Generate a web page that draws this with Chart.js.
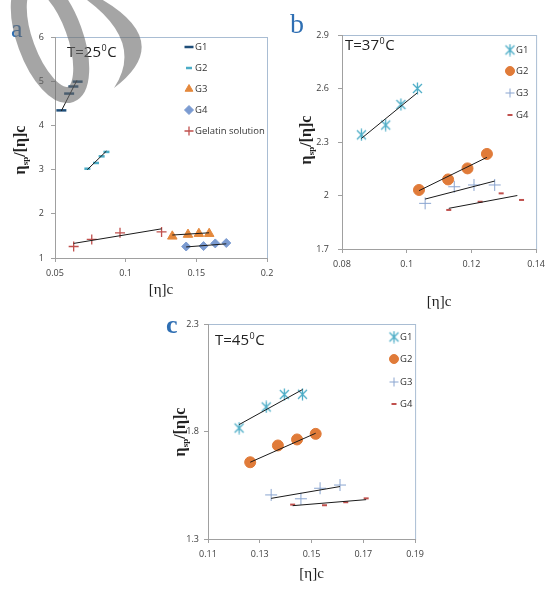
<!DOCTYPE html>
<html lang="en">
<head>
<meta charset="UTF-8">
<title>Huggins plots</title>
<script src="https://cdn.jsdelivr.net/npm/chart.js"></script>
<style>
  body { margin: 0; background: #fff; width: 551px; height: 595px; position: relative; overflow: hidden; }
  canvas { position: absolute; }
  #ca { left: 0; top: 0; }
  #cb { left: 280px; top: 0; }
  #cc { left: 140px; top: 300px; }
  #wm { left: 0; top: 0; pointer-events: none; }
</style>
</head>
<body>
<canvas id="ca" width="280" height="300"></canvas>
<canvas id="cb" width="271" height="320"></canvas>
<canvas id="cc" width="290" height="295"></canvas>
<canvas id="wm" width="200" height="200"></canvas>

<script>
// ---- panel a, T = 25 C ----
const aXTicks = [0.05, 0.1, 0.15, 0.2];
const aYTicks = [1, 2, 3, 4, 5, 6];
const aG1x = [0.0545, 0.060, 0.063, 0.066];
const aG1y = [4.34, 4.72, 4.88, 4.99];
const aG2x = [0.0729, 0.079, 0.083, 0.0864];
const aG2y = [3.02, 3.15, 3.30, 3.40];
const aG3x = [0.133, 0.1441, 0.1518, 0.1591];
const aG3y = [1.49, 1.53, 1.55, 1.55];
const aG4x = [0.1428, 0.1551, 0.1634, 0.1712];
const aG4y = [1.26, 1.27, 1.33, 1.34];
const aGelx = [0.0632, 0.076, 0.096, 0.1254];
const aGely = [1.26, 1.42, 1.57, 1.59];
// trend line ends
const aG1tx = [0.0545, 0.0655], aG1ty = [4.33, 5.02];
const aG2tx = [0.0729, 0.0864], aG2ty = [3.00, 3.42];
const aG3tx = [0.133, 0.159], aG3ty = [1.52, 1.57];
const aG4tx = [0.1428, 0.1712], aG4ty = [1.25, 1.32];
const aGeltx = [0.0632, 0.1254], aGelty = [1.33, 1.66];

// ---- panel b, T = 37 C ----
const bXTicks = [0.08, 0.1, 0.12, 0.14];
const bYTicks = [1.7, 2, 2.3, 2.6, 2.9];
const bG1x = [0.086, 0.0935, 0.0982, 0.1033];
const bG1y = [2.34, 2.395, 2.51, 2.60];
const bG2x = [0.1038, 0.1128, 0.1188, 0.1248];
const bG2y = [2.031, 2.09, 2.152, 2.233];
const bG3x = [0.1057, 0.1147, 0.1208, 0.1272];
const bG3y = [1.956, 2.049, 2.059, 2.059];
const bG4x = [0.113, 0.1227, 0.1292, 0.1355];
const bG4y = [1.919, 1.965, 2.012, 1.975];
const bG1tx = [0.086, 0.1033], bG1ty = [2.32, 2.576];
const bG2tx = [0.1038, 0.1248], bG2ty = [2.027, 2.214];
const bG3tx = [0.1057, 0.1272], bG3ty = [1.98, 2.081];
const bG4tx = [0.113, 0.1342], bG4ty = [1.928, 2.0];

// ---- panel c, T = 45 C ----
const cXTicks = [0.11, 0.13, 0.15, 0.17, 0.19];
const cYTicks = [1.3, 1.8, 2.3];
const cG1x = [0.122, 0.1325, 0.1395, 0.1465];
const cG1y = [1.816, 1.914, 1.972, 1.973];
const cG2x = [0.1263, 0.137, 0.1444, 0.1516];
const cG2y = [1.657, 1.735, 1.763, 1.789];
const cG3x = [0.1344, 0.1459, 0.1533, 0.161];
const cG3y = [1.505, 1.487, 1.536, 1.551];
const cG4x = [0.1427, 0.155, 0.1632, 0.1711];
const cG4y = [1.46, 1.457, 1.471, 1.489];
const cG1tx = [0.122, 0.1465], cG1ty = [1.832, 1.995];
const cG2tx = [0.1263, 0.1516], cG2ty = [1.657, 1.792];
const cG3tx = [0.1344, 0.161], cG3ty = [1.489, 1.544];
const cG4tx = [0.1427, 0.1711], cG4ty = [1.455, 1.483];

const pts = (xs, ys) => xs.map((x, i) => ({ x: x, y: ys[i] }));

// Excel-like asterisk marker (X plus a vertical bar)
function asterisk(color) {
  const c = document.createElement('canvas');
  c.width = 13; c.height = 13;
  const g = c.getContext('2d');
  g.strokeStyle = color;
  g.lineWidth = 1.3;
  g.beginPath();
  g.moveTo(2, 2); g.lineTo(11, 11);
  g.moveTo(11, 2); g.lineTo(2, 11);
  g.moveTo(6.5, 0.5); g.lineTo(6.5, 12.5);
  g.stroke();
  return c;
}

// marker styles
const stDash1 = { pointStyle: 'line', pointRadius: 5, pointBorderWidth: 2.5, borderColor: '#1f4e79', backgroundColor: '#1f4e79' };
const stDash2 = { pointStyle: 'line', pointRadius: 3, pointBorderWidth: 2.5, borderColor: '#4bacc6', backgroundColor: '#4bacc6' };
const stTri = { pointStyle: 'triangle', pointRadius: 5.5, pointBorderWidth: 1, borderColor: '#e4883c', backgroundColor: '#e4883c' };
const stDiam = { pointStyle: 'rectRot', pointRadius: 4.5, pointBorderWidth: 1, borderColor: '#7b9bd1', backgroundColor: '#7b9bd1' };
const stPlusRed = { pointStyle: 'cross', pointRadius: 5, pointBorderWidth: 1.3, borderColor: '#c0504d', backgroundColor: '#c0504d' };
const stStar = { pointStyle: asterisk('#4bacc6'), pointRadius: 6, pointBorderWidth: 1.2, borderColor: '#4bacc6', backgroundColor: '#4bacc6' };
const stCirc = { pointStyle: 'circle', pointRadius: 5.5, pointBorderWidth: 1, borderColor: '#e07b39', backgroundColor: '#e07b39' };
const stPlus = { pointStyle: 'cross', pointRadius: 6, pointBorderWidth: 1, borderColor: '#8aa5d0', backgroundColor: '#8aa5d0' };
const stDashRed = { pointStyle: 'line', pointRadius: 2.5, pointBorderWidth: 2, borderColor: '#c0504d', backgroundColor: '#c0504d' };

function series(label, xs, ys, st) {
  return Object.assign({ label: label, data: pts(xs, ys), showLine: false, order: 1 }, st);
}
function trend(xs, ys) {
  return { label: '', data: pts(xs, ys), showLine: true, borderColor: '#1a1a1a', borderWidth: 1,
           pointRadius: 0, order: 0, noLegend: true };
}

// draws frame, panel letter, temperature, axis titles and the legend
const panelPlugin = {
  id: 'panel',
  beforeDraw(chart, args, o) {
    const a = chart.chartArea, ctx = chart.ctx;
    ctx.save();
    ctx.strokeStyle = '#a9bdd3';
    ctx.lineWidth = 1;
    ctx.strokeRect(a.left + 0.5, a.top + 0.5, a.right - a.left, a.bottom - a.top);
    ctx.restore();
  },
  afterDraw(chart, args, o) {
    const a = chart.chartArea, ctx = chart.ctx;
    ctx.save();
    // panel letter
    ctx.fillStyle = '#2f6fb3';
    ctx.font = o.letterFont;
    ctx.textBaseline = 'alphabetic';
    ctx.fillText(o.letter, o.letterX, o.letterY);
    // temperature
    ctx.fillStyle = '#222';
    ctx.font = '15px "Open Sans"';
    ctx.textBaseline = 'middle';
    let x = o.tempX;
    ctx.fillText('T=' + o.temp, x, o.tempY);
    x += ctx.measureText('T=' + o.temp).width;
    ctx.font = '9px "Open Sans"';
    ctx.fillText('0', x + 0.5, o.tempY - 5);
    x += ctx.measureText('0').width + 1;
    ctx.font = '15px "Open Sans"';
    ctx.fillText('C', x, o.tempY);
    // x title
    ctx.font = '15px "Liberation Serif"';
    ctx.textAlign = 'center';
    ctx.fillStyle = '#222';
    ctx.fillText('[\u03b7]c', (a.left + a.right) / 2, o.xTitleY);
    // y title with subscript
    ctx.translate(o.yTitleX, o.yTitleY);
    ctx.rotate(-Math.PI / 2);
    ctx.textAlign = 'left';
    ctx.textBaseline = 'alphabetic';
    const parts = [['\u03b7', 'bold 16px "Liberation Serif"', 0],
                   ['sp', 'bold 9px "Liberation Serif"', 3],
                   ['/[\u03b7]c', 'bold 16px "Liberation Serif"', 0]];
    let w = 0;
    parts.forEach(p => { ctx.font = p[1]; w += ctx.measureText(p[0]).width; });
    let px = -w / 2;
    parts.forEach(p => { ctx.font = p[1]; ctx.fillText(p[0], px, 5 + p[2]); px += ctx.measureText(p[0]).width; });
    ctx.restore();
    // legend
    ctx.save();
    ctx.font = '9.5px "Open Sans"';
    ctx.textBaseline = 'middle';
    let k = 0;
    chart.data.datasets.forEach(ds => {
      if (ds.noLegend) return;
      const ly = o.legendY[k++];
      ctx.fillStyle = ds.backgroundColor;
      ctx.strokeStyle = ds.borderColor;
      ctx.lineWidth = ds.pointBorderWidth;
      Chart.helpers.drawPoint(ctx, { pointStyle: ds.pointStyle, radius: Math.min(ds.pointRadius, 4.5), rotation: 0,
                                     borderWidth: ds.pointBorderWidth }, o.legendX, ly);
      ctx.fillStyle = '#333';
      ctx.fillText(ds.label, o.legendX + 6, ly);
    });
    ctx.restore();
  }
};

function makeChart(id, datasets, xr, yr, xTicks, yTicks, lay, panel) {
  return new Chart(document.getElementById(id), {
    type: 'scatter',
    data: { datasets: datasets },
    options: {
      responsive: false,
      animation: false,
      events: [],
      layout: { padding: { left: 0, top: lay.top, right: lay.right, bottom: 0 } },
      plugins: { legend: { display: false }, tooltip: { enabled: false }, panel: panel },
      scales: {
        x: {
          type: 'linear', min: xr[0], max: xr[1],
          afterBuildTicks: s => { s.ticks = xTicks.map(v => ({ value: v })); },
          afterFit: s => { s.height = lay.xh; },
          ticks: { font: { family: 'Open Sans', size: 9 }, color: '#404040', padding: 6, maxRotation: 0,
                   callback: v => String(v) },
          grid: { drawOnChartArea: false, tickLength: 4, color: '#a0a0a0' },
          border: { color: '#a0a0a0' }
        },
        y: {
          type: 'linear', min: yr[0], max: yr[1],
          afterBuildTicks: s => { s.ticks = yTicks.map(v => ({ value: v })); },
          afterFit: s => { s.width = lay.yw; },
          ticks: { font: { family: 'Open Sans', size: 9 }, color: '#404040', padding: lay.ypad,
                   autoSkip: false, callback: v => String(v) },
          grid: { drawOnChartArea: false, tickLength: 4, color: '#a0a0a0' },
          border: { color: '#a0a0a0' }
        }
      }
    },
    plugins: [panelPlugin]
  });
}

makeChart('ca', [
  trend(aG1tx, aG1ty), trend(aG2tx, aG2ty), trend(aG3tx, aG3ty), trend(aG4tx, aG4ty), trend(aGeltx, aGelty),
  series('G1', aG1x, aG1y, stDash1),
  series('G2', aG2x, aG2y, stDash2),
  series('G3', aG3x, aG3y, stTri),
  series('G4', aG4x, aG4y, stDiam),
  series('Gelatin solution', aGelx, aGely, stPlusRed)
], [0.05, 0.2], [1, 6], aXTicks, aYTicks,
{ top: 37, right: 13, xh: 42, yw: 55, ypad: 7 },
{ letter: 'a', letterFont: '26px "Liberation Serif"', letterX: 11, letterY: 37,
  temp: '25', tempX: 67, tempY: 53, xTitleY: 290, yTitleX: 20, yTitleY: 150,
  legendX: 189, legendY: [47, 68, 89, 110, 131] });

makeChart('cb', [
  trend(bG1tx, bG1ty), trend(bG2tx, bG2ty), trend(bG3tx, bG3ty), trend(bG4tx, bG4ty),
  series('G1', bG1x, bG1y, stStar),
  series('G2', bG2x, bG2y, stCirc),
  series('G3', bG3x, bG3y, stPlus),
  series('G4', bG4x, bG4y, stDashRed)
], [0.08, 0.14], [1.7, 2.9], bXTicks, bYTicks,
{ top: 35, right: 9, xh: 71, yw: 62, ypad: 9 },
{ letter: 'b', letterFont: '28px "Liberation Serif"', letterX: 10, letterY: 33,
  temp: '37', tempX: 65, tempY: 46, xTitleY: 302, yTitleX: 26, yTitleY: 140,
  legendX: 230, legendY: [50, 71, 93, 115] });

makeChart('cc', [
  trend(cG1tx, cG1ty), trend(cG2tx, cG2ty), trend(cG3tx, cG3ty), trend(cG4tx, cG4ty),
  series('G1', cG1x, cG1y, stStar),
  series('G2', cG2x, cG2y, stCirc),
  series('G3', cG3x, cG3y, stPlus),
  series('G4', cG4x, cG4y, stDashRed)
], [0.11, 0.19], [1.3, 2.3], cXTicks, cYTicks,
{ top: 24, right: 11, xh: 56, yw: 68, ypad: 5 },
{ letter: 'c', letterFont: 'bold 26px "Liberation Serif"', letterX: 26, letterY: 33,
  temp: '45', tempX: 75, tempY: 41, xTitleY: 274, yTitleX: 40, yTitleY: 132,
  legendX: 254, legendY: [37, 59, 82, 104] });

// grey watermark over panel a
const wm = document.getElementById('wm').getContext('2d');
wm.strokeStyle = 'rgba(105,105,105,0.6)';
wm.fillStyle = 'rgba(105,105,105,0.6)';
wm.lineWidth = 16;
wm.beginPath();
wm.ellipse(50, 38, 25, 60, -0.35, 0, Math.PI * 2);
wm.stroke();
wm.beginPath();
wm.moveTo(94, -5);
wm.quadraticCurveTo(178, 40, 114, 88);
wm.quadraticCurveTo(146, 40, 80, -5);
wm.closePath();
wm.fill();
</script>
</body>
</html>
